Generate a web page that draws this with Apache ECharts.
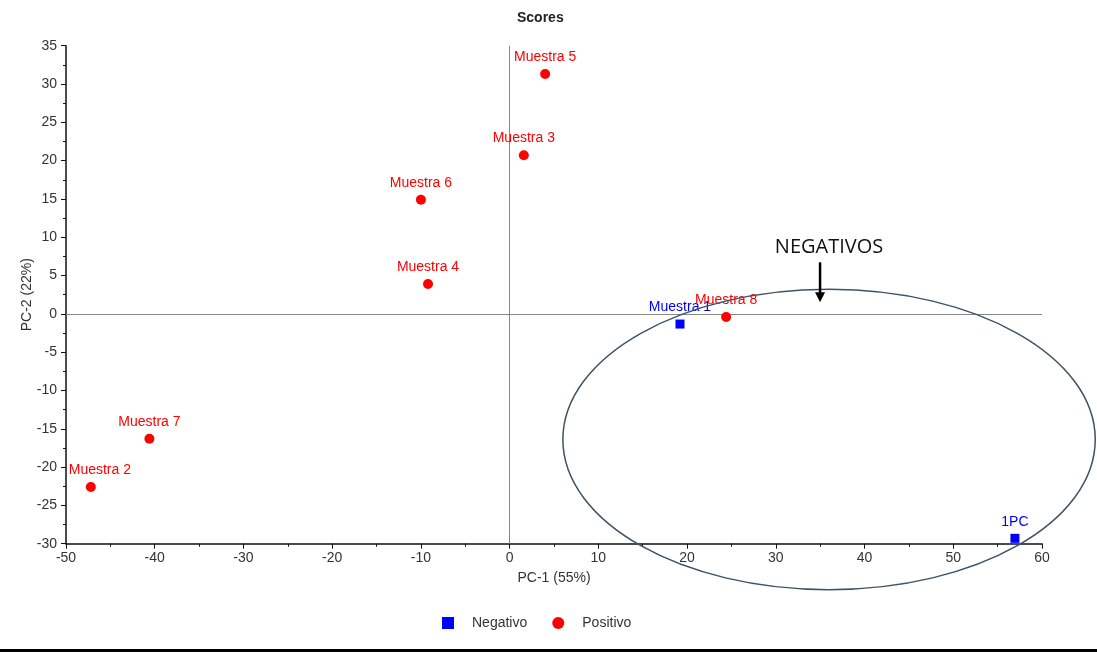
<!DOCTYPE html>
<html>
<head>
<meta charset="utf-8">
<script src="https://cdn.jsdelivr.net/npm/echarts@6/dist/echarts.min.js"></script>
<style>
  html, body { margin: 0; padding: 0; background: #fff; }
  #chart { width: 1097px; height: 652px; }
</style>
</head>
<body>
<div id="chart"></div>
<script>
// PCA scores: PC-1 vs PC-2
const negNames = ['Muestra 1', '1PC'];
const negX = [19.2, 56.95];
const negY = [-1.33, -29.3];

const posNames = ['Muestra 2', 'Muestra 3', 'Muestra 4', 'Muestra 5', 'Muestra 6', 'Muestra 7', 'Muestra 8'];
const posX = [-47.2, 1.6, -9.2, 4.0, -10.0, -40.6, 24.4];
const posY = [-22.6, 20.7, 3.9, 31.3, 14.9, -16.3, -0.4];

// Region enclosing the negative group (data units)
const groupCenter = [36.0, -16.4];
const groupRadii = [30.0, 19.6];
const groupTitle = 'NEGATIVOS';

const FONT = '"Liberation Sans", Arial, sans-serif';

function toPoints(xs, ys, names) {
  return xs.map((x, i) => {
    const item = { value: [x, ys[i]], name: names[i] };
    // keep the leftmost label inside the plot
    if (x < -45) item.label = { offset: [9, 0] };
    return item;
  });
}

const chart = echarts.init(document.getElementById('chart'), null, { renderer: 'canvas' });

const labelStyle = (color) => ({
  show: true,
  position: 'top',
  distance: 5,
  formatter: '{b}',
  color: color,
  fontFamily: FONT,
  fontSize: 14
});

const axisCommon = {
  type: 'value',
  nameLocation: 'middle',
  nameMoveOverlap: false,
  nameTextStyle: { fontFamily: FONT, fontSize: 14, color: '#333' },
  axisLine: { onZero: false, lineStyle: { color: '#111', width: 1.5 } },
  axisTick: { length: 5, lineStyle: { color: '#111' } },
  minorTick: { show: true, splitNumber: 2, length: 3, lineStyle: { color: '#111' } },
  splitLine: { show: false }
};

chart.setOption({
  animation: false,
  title: {
    text: 'Scores',
    left: 512,
    top: 6,
    textStyle: { fontFamily: FONT, fontSize: 14, fontWeight: 'bold', color: '#222' }
  },
  legend: {
    top: 611,
    left: 437,
    itemWidth: 12,
    itemHeight: 12,
    itemGap: 25,
    textStyle: { fontFamily: FONT, fontSize: 14, color: '#333', padding: [0, 0, 0, 13] },
    data: [
      { name: 'Negativo', icon: 'rect' },
      { name: 'Positivo', icon: 'circle' }
    ]
  },
  grid: { left: 66, right: 55, top: 45.7, bottom: 108.3 },
  xAxis: Object.assign({}, axisCommon, {
    min: -50, max: 60, interval: 10,
    name: 'PC-1 (55%)',
    nameGap: 27,
    axisLabel: { fontFamily: FONT, fontSize: 14, color: '#333', margin: 7 }
  }),
  yAxis: Object.assign({}, axisCommon, {
    min: -30, max: 35, interval: 5,
    name: 'PC-2 (22%)',
    nameGap: 32,
    axisLabel: { fontFamily: FONT, fontSize: 14, color: '#333', margin: 9 }
  }),
  series: [
    {
      name: 'Negativo',
      type: 'scatter',
      symbol: 'rect',
      symbolSize: 9,
      itemStyle: { color: '#0000ff', opacity: 1 },
      label: labelStyle('#0000ff'),
      data: toPoints(negX, negY, negNames),
      z: 3
    },
    {
      name: 'Positivo',
      type: 'scatter',
      symbol: 'circle',
      symbolSize: 10,
      itemStyle: { color: '#ff0000', opacity: 1 },
      label: labelStyle('#ff0000'),
      data: toPoints(posX, posY, posNames),
      z: 3,
      markLine: {
        silent: true,
        symbol: 'none',
        label: { show: false },
        lineStyle: { color: '#888', width: 1, type: 'solid' },
        data: [{ xAxis: 0 }, { yAxis: 0 }],
        z: 1
      }
    }
  ]
});

// Ellipse, caption and arrow marking the negative group
function drawAnnotations() {
  const c = chart.convertToPixel({ xAxisIndex: 0, yAxisIndex: 0 }, groupCenter);
  const e = chart.convertToPixel({ xAxisIndex: 0, yAxisIndex: 0 },
    [groupCenter[0] + groupRadii[0], groupCenter[1] + groupRadii[1]]);
  const rx = Math.abs(e[0] - c[0]);
  const ry = Math.abs(c[1] - e[1]);
  const arrowX = c[0] - 9;
  const topY = c[1] - ry;
  chart.setOption({
    graphic: [
      {
        type: 'ellipse',
        shape: { cx: c[0], cy: c[1], rx: rx, ry: ry },
        style: { fill: 'none', stroke: '#3c5366', lineWidth: 1.5 },
        z: 10
      },
      {
        type: 'text',
        x: c[0],
        y: topY - 42,
        style: {
          text: groupTitle,
          fill: '#111',
          font: '20px "Open Sans", "Noto Sans", sans-serif',
          textAlign: 'center',
          textVerticalAlign: 'middle'
        },
        z: 10
      },
      {
        type: 'line',
        shape: { x1: arrowX, y1: topY - 27, x2: arrowX, y2: topY + 6 },
        style: { stroke: '#000', lineWidth: 2.5 },
        z: 10
      },
      {
        type: 'polygon',
        shape: { points: [[arrowX - 5, topY + 3], [arrowX + 5, topY + 3], [arrowX, topY + 13]] },
        style: { fill: '#000' },
        z: 10
      },
      {
        type: 'rect',
        shape: { x: 0, y: 649, width: 1097, height: 3 },
        style: { fill: '#000' },
        z: 10
      }
    ]
  });
}
drawAnnotations();
</script>
</body>
</html>
